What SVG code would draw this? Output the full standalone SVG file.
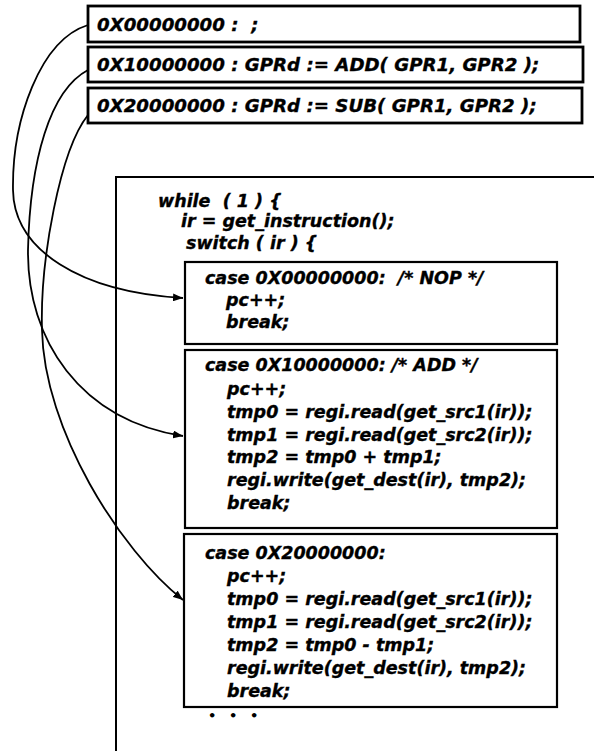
<svg xmlns="http://www.w3.org/2000/svg" width="594" height="751" viewBox="0 0 594 751">
<style>
  .box { fill: #fff; stroke: #000; stroke-width: 2.2; }
  .tb { stroke-width: 2.8; }
  .t { font-family: "DejaVu Sans", "Liberation Sans", sans-serif; font-weight: bold; font-style: italic; font-size: 17.5px; fill: #000; stroke: #000; stroke-width: 0.35; white-space: pre; }
  .th { font-size: 18.2px; }
  .dots { font-size: 13px; font-style: normal; stroke-width: 0; }
  .c { fill: none; stroke: #000; stroke-width: 1.8; }
</style>
<defs>
  <marker id="ah" viewBox="0 0 10 8" refX="10" refY="4" markerWidth="10" markerHeight="8" markerUnits="userSpaceOnUse" orient="auto">
    <path d="M0,0 L10,4 L0,8 Z" fill="#000"/>
  </marker>
</defs>
<rect width="594" height="751" fill="#fff"/>

<g id="instr0">
  <rect class="box tb" x="88" y="6" width="492" height="36"/>
  <text class="t th" x="97" y="31" xml:space="preserve">0X00000000 :  ;</text>
</g>
<g id="instr1">
  <rect class="box tb" x="88" y="47" width="495" height="35"/>
  <text class="t th" x="97" y="71">0X10000000 : GPRd := ADD( GPR1, GPR2 );</text>
</g>
<g id="instr2">
  <rect class="box tb" x="88" y="88" width="494" height="35"/>
  <text class="t th" x="97" y="112">0X20000000 : GPRd := SUB( GPR1, GPR2 );</text>
</g>

<g id="loop">
  <path d="M116,751 L116,177 L594,177" fill="none" stroke="#000" stroke-width="2"/>
  <text class="t" x="158" y="207" xml:space="preserve">while  ( 1 ) {</text>
  <text class="t" x="181" y="227">ir = get_instruction();</text>
  <text class="t" x="186" y="249">switch ( ir ) {</text>
</g>

<g id="case-nop">
  <rect class="box" x="185" y="262" width="372" height="82"/>
  <text class="t" x="205" y="284" xml:space="preserve">case 0X00000000:  /* NOP */</text>
  <text class="t" x="226" y="306">pc++;</text>
  <text class="t" x="226" y="328">break;</text>
</g>

<g id="case-add">
  <rect class="box" x="185" y="350" width="372" height="178"/>
  <text class="t" x="205" y="371">case 0X10000000: /* ADD */</text>
  <text class="t" x="227" y="395">pc++;</text>
  <text class="t" x="227" y="418">tmp0 = regi.read(get_src1(ir));</text>
  <text class="t" x="227" y="441">tmp1 = regi.read(get_src2(ir));</text>
  <text class="t" x="227" y="463">tmp2 = tmp0 + tmp1;</text>
  <text class="t" x="227" y="486">regi.write(get_dest(ir), tmp2);</text>
  <text class="t" x="227" y="509">break;</text>
</g>

<g id="case-sub">
  <rect class="box" x="184" y="534" width="373" height="173"/>
  <text class="t" x="205" y="559">case 0X20000000:</text>
  <text class="t" x="227" y="582">pc++;</text>
  <text class="t" x="227" y="605">tmp0 = regi.read(get_src1(ir));</text>
  <text class="t" x="227" y="628">tmp1 = regi.read(get_src2(ir));</text>
  <text class="t" x="227" y="651">tmp2 = tmp0 - tmp1;</text>
  <text class="t" x="227" y="674">regi.write(get_dest(ir), tmp2);</text>
  <text class="t" x="227" y="697">break;</text>
  <text class="t dots" x="208 229 250" y="720">•••</text>
</g>

<g id="connectors">
  <path class="c" d="M88,25 C40,40 12,120 13,190 C14,250 80,292 183,298" marker-end="url(#ah)"/>
  <path class="c" d="M88,70 C50,90 30,160 28,250 C27,340 80,420 183,436" marker-end="url(#ah)"/>
  <path class="c" d="M88,115 C60,150 40,260 42,330 C44,430 120,550 183,600" marker-end="url(#ah)"/>
</g>
</svg>
